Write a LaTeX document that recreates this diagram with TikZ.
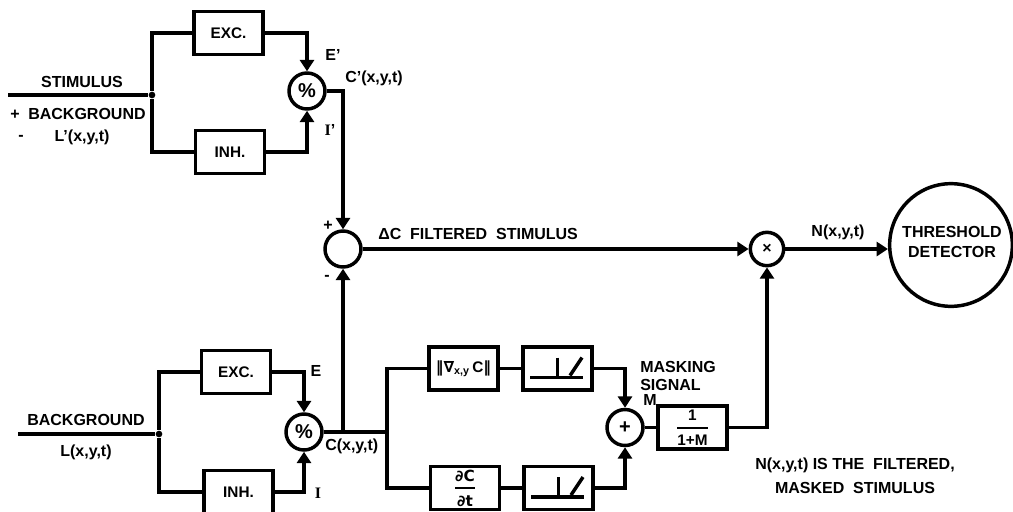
\documentclass[tikz,border=0pt]{standalone}
\usepackage{amsmath,amssymb}
\usepackage{fontspec}
\setmainfont{Liberation Sans}
\newfontfamily\serifface{Liberation Serif}
\newfontfamily\symface{DejaVu Sans}
\usepackage{tikz}
\usetikzlibrary{arrows.meta,positioning,calc}
\tikzset{
    blockbox/.style={draw=black,fill=white,line width=2.6pt,
      minimum width=52pt,minimum height=32.5pt,inner sep=0pt,
      font=\fontsize{11.5}{13}\bfseries,align=center},
    opcircle/.style={draw=black,fill=white,circle,line width=2.6pt,
      minimum size=27pt,inner sep=0pt,font=\fontsize{15}{15}\bfseries},
    wire/.style={draw=black,line width=2.6pt},
    flowarrow/.style={wire,-{Triangle[length=8.5pt,width=10.5pt]}},
    junct/.style={circle,fill=black,minimum size=5pt,inner sep=0pt},
    siglabel/.style={inner sep=0pt,font=\fontsize{12}{13}\bfseries,align=center},
    ramplines/.style={draw=black,line width=2.6pt}
}
\begin{document}
\begin{tikzpicture}[x=0.75pt,y=-0.75pt]
  \useasboundingbox (0,0) rectangle (1013,511);
  \node[siglabel,anchor=west] (msig) at (643,400) {M};
  \node[blockbox] (exct) at (228.5,33) {EXC.};
  \node[blockbox] (inht) at (230,152) {INH.};
  \node[opcircle] (divt) at (307,91) {\%};
  \node[blockbox] (excb) at (236,372) {EXC.};
  \node[blockbox] (inhb) at (238.5,492) {INH.};
  \node[opcircle] (divb) at (304,432) {\%};
  \node[opcircle] (sumd) at (343,249) {};
  \node[blockbox] (grad) at (463.5,368.5) {{\symface‖∇}\textsubscript{x,y}\,C{\symface‖}};
  \node[blockbox] (rampt) at (557.5,368.5) {};
  \node[blockbox] (dtbox) at (465,488) {$\displaystyle{\text{\symface\bfseries ∂C}\above 1.5pt\text{\symface\bfseries ∂t}}$};
  \node[blockbox] (rampb) at (558.5,488) {};
  \node[opcircle] (plus) at (625,427.5) {+};
  \node[blockbox] (inv) at (692.5,427.5) {$\displaystyle{\text{\bfseries 1}\above 1.5pt\text{\bfseries 1+M}}$};
  \node[opcircle,minimum size=25pt,font=\fontsize{12}{12}\bfseries] (mult) at (767,249) {×};
  \node[draw=black,fill=white,circle,line width=2.6pt,minimum size=92pt,inner sep=0pt] (thresh) at (951,245) {};
  \foreach \r in {rampt,rampb} {
    \begin{scope}[shift={(\r.center)}]
      \draw[ramplines] (-27.5,9) -- (25.5,9);
      \draw[ramplines] (0,-11) -- (0,9);
      \draw[ramplines] (12.5,7) -- (24.5,-11);
    \end{scope}
  }
  \coordinate (stimin) at (8,95);
  \coordinate (bgin) at (18,434);
  \node[junct] (jt) at (152,95) {};
  \node[junct] (jl) at (159,434) {};
  \coordinate (jb) at (387,432);
  \coordinate (tap) at (343,432);
  \draw[wire] (stimin) -- (jt);
  \draw[wire] (exct.west) -| (jt) |- (inht.west);
  \draw[flowarrow] (exct.east) -| (divt.north);
  \draw[flowarrow] (inht.east) -| (divt.south);
  \draw[flowarrow] (divt.east) -| (sumd.north);
  \draw[wire] (bgin) -- (jl);
  \draw[wire] (excb.west) -| (jl) |- (inhb.west);
  \draw[flowarrow] (excb.east) -| (divb.north);
  \draw[flowarrow] (inhb.east) -| (divb.south);
  \draw[wire] (divb.east) -- (jb);
  \draw[flowarrow] (tap) -- (sumd.south);
  \draw[wire] (grad.west) -| (jb) |- (dtbox.west);
  \draw[wire] (grad.east) -- (rampt.west);
  \draw[wire] (dtbox.east) -- (rampb.west);
  \draw[flowarrow] (rampt.east) -| (plus.north);
  \draw[flowarrow] (rampb.east) -| (plus.south);
  \draw[wire] (plus.east) -- (inv.west);
  \draw[flowarrow] (inv.east) -| (mult.south);
  \draw[flowarrow] (sumd.east) -- (mult.west);
  \draw[flowarrow] (mult.east) -- (mult.east -| thresh.west);
  \node[siglabel] (stim) at (82,82) {STIMULUS};
  \node[siglabel] (plusbg) at (15,115) {+};
  \node[siglabel] (bgt) at (87,114) {BACKGROUND};
  \node[siglabel] (minusbg) at (21,138) {-};
  \node[siglabel] (lprime) at (82,137) {L'(x,y,t)};
  \node[siglabel] (eprime) at (333,55) {E'};
  \node[siglabel,anchor=west] (cprime) at (345,78) {C'(x,y,t)};
  \node[siglabel] (iprime) at (330,130) {{\serifface I}'};
  \node[siglabel] (plussum) at (328,226) {+};
  \node[siglabel] (minussum) at (327,278) {-};
  \node[siglabel,anchor=west] (delta) at (378,234) {ΔC\ \ FILTERED\ \ STIMULUS};
  \node[siglabel] (nout) at (838,232) {N(x,y,t)};
  \node[siglabel] (thrt) at (952,232) {THRESHOLD};
  \node[siglabel] (thrd) at (952,252) {DETECTOR};
  \node[siglabel] (bgb) at (86,420) {BACKGROUND};
  \node[siglabel] (lb) at (86,452) {L(x,y,t)};
  \node[siglabel] (ee) at (316,371) {E};
  \node[siglabel] (ii) at (318,493) {{\serifface I}};
  \node[siglabel,anchor=west] (cb) at (325,446) {C(x,y,t)};
  \node[siglabel,anchor=west] (mask) at (640,367) {MASKING};
  \node[siglabel,anchor=west] (sig) at (640,385) {SIGNAL};
  \node[siglabel] (note) at (855,465) {N(x,y,t) IS THE\ \ FILTERED,};
  \node[siglabel] (note2) at (855,488) {MASKED\ \ STIMULUS};
\end{tikzpicture}
\end{document}
